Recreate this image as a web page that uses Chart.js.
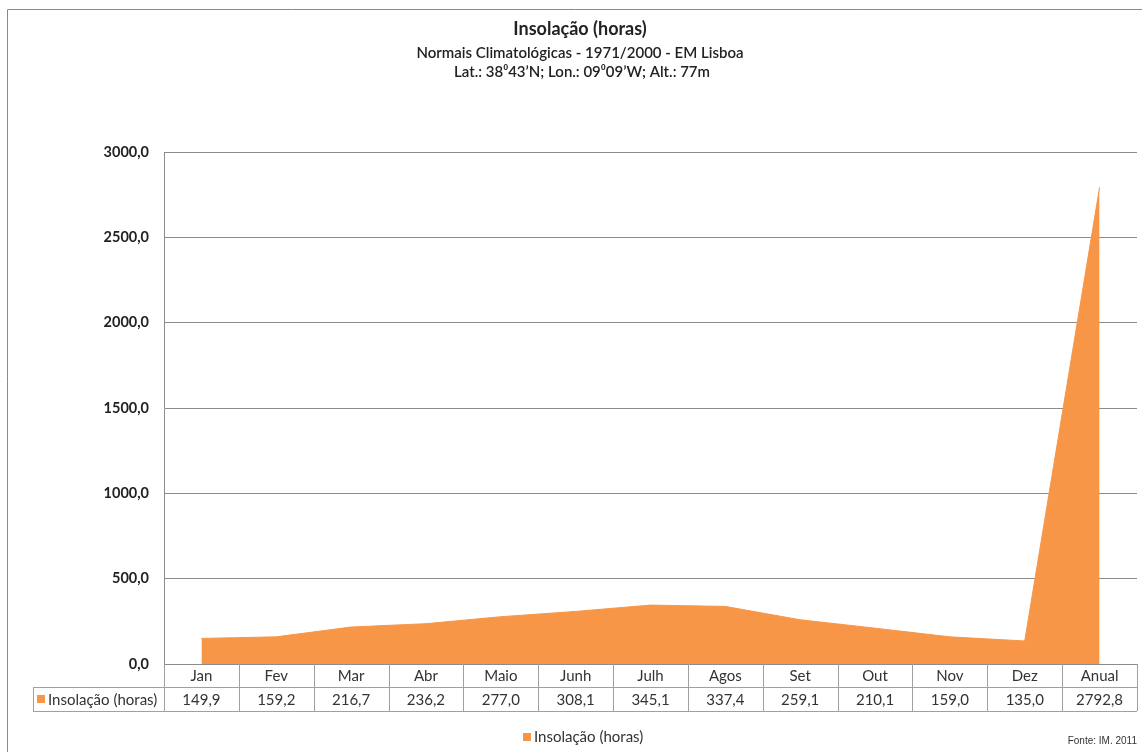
<!DOCTYPE html>
<html>
<head>
<meta charset="utf-8">
<script src="https://cdn.jsdelivr.net/npm/chart.js@4/dist/chart.umd.min.js"></script>
<style>
  html, body { margin: 0; padding: 0; background: #fff; }
  #wrap { width: 1142px; height: 752px; position: relative; }
</style>
</head>
<body>
<div id="wrap"><canvas id="myChart"></canvas></div>
<script>
var categories = ['Jan', 'Fev', 'Mar', 'Abr', 'Maio', 'Junh', 'Julh', 'Agos', 'Set', 'Out', 'Nov', 'Dez', 'Anual']
var insolacao = [149.9, 159.2, 216.7, 236.2, 277.0, 308.1, 345.1, 337.4, 259.1, 210.1, 159.0, 135.0, 2792.8]
var yTicks = [0, 500, 1000, 1500, 2000, 2500, 3000]
var seriesName = 'Insolação (horas)'
var titleLines = ['Insolação (horas)', 'Normais Climatológicas - 1971/2000 - EM Lisboa', 'Lat.: 38⁰43’N; Lon.: 09⁰09’W; Alt.: 77m']
var sourceText = 'Fonte: IM. 2011'

var orange = '#F79646'
var fontFam = 'Lato, "Open Sans", sans-serif'

function fmt(v) {
    return v.toFixed(1).replace('.', ',')
}

// titles, data table, legend and source drawn around the plot
var extras = {
    id: 'extras',
    beforeDraw: function(chart) {
        var c = chart.ctx
        c.save()
        c.strokeStyle = '#8a8a8a'
        c.lineWidth = 1
        c.beginPath()
        c.moveTo(7.5, 760)
        c.lineTo(7.5, 9.5)
        c.lineTo(1150, 9.5)
        c.stroke()
        c.restore()
    },
    afterDraw: function(chart) {
        var c = chart.ctx
        var area = chart.chartArea
        var x = chart.scales.x
        var colW = (area.right - area.left) / categories.length
        var row1 = area.bottom, row2 = area.bottom + 23, row3 = area.bottom + 47
        c.save()
        c.fillStyle = '#222'
        c.textAlign = 'center'
        c.textBaseline = 'middle'
        c.font = 'bold 18px ' + fontFam
        c.fillText(titleLines[0], 580, 29)
        c.font = '600 15px ' + fontFam
        c.fillText(titleLines[1], 580, 53)
        c.fillText(titleLines[2], 582, 72)

        // table grid
        c.strokeStyle = '#a0a0a0'
        c.lineWidth = 1
        c.beginPath()
        c.moveTo(33, row2 + 0.5); c.lineTo(area.right, row2 + 0.5)
        c.moveTo(33, row3 + 0.5); c.lineTo(area.right, row3 + 0.5)
        c.moveTo(33.5, row2); c.lineTo(33.5, row3)
        for (var i = 0; i <= categories.length; i++) {
            var lx = Math.round(area.left + i * colW) + 0.5
            c.moveTo(lx, row1); c.lineTo(lx, row3)
        }
        c.stroke()

        c.fillStyle = '#333'
        c.font = '15px ' + fontFam
        categories.forEach(function(cat, i) {
            var cx = x.getPixelForValue(i)
            c.fillText(cat, cx, (row1 + row2) / 2 + 1)
            c.fillText(fmt(insolacao[i]), cx, (row2 + row3) / 2 + 1)
        })
        c.textAlign = 'left'
        c.fillStyle = orange
        c.fillRect(37, (row2 + row3) / 2 - 4, 8, 8)
        c.fillStyle = '#333'
        c.fillText(seriesName, 48, (row2 + row3) / 2 + 1)

        // legend
        c.fillStyle = orange
        c.fillRect(523, 733, 8, 8)
        c.fillStyle = '#333'
        c.fillText(seriesName, 534, 737)

        // source
        c.font = '10px "Liberation Sans", Arial, sans-serif'
        c.textAlign = 'right'
        c.fillText(sourceText, 1137, 741)
        c.restore()
    }
}

var ctx = document.getElementById('myChart').getContext('2d')
var chart = new Chart(ctx, {
    type: 'line',
    data: {
        labels: categories,
        datasets: [{
            label: seriesName,
            data: insolacao,
            fill: 'origin',
            backgroundColor: orange,
            borderColor: orange,
            borderWidth: 1,
            pointRadius: 0,
            tension: 0
        }]
    },
    options: {
        responsive: true,
        maintainAspectRatio: false,
        animation: false,
        layout: { padding: { top: 152, left: 7, right: 5, bottom: 88 } },
        plugins: {
            legend: { display: false },
            title: { display: false },
            tooltip: { enabled: false }
        },
        scales: {
            x: {
                display: false,
                offset: true
            },
            y: {
                min: 0,
                max: 3000,
                afterBuildTicks: function(s) {
                    s.ticks = yTicks.map(function(v) { return { value: v } })
                },
                afterFit: function(s) { s.width = 157 },
                grid: { color: '#8c8c8c', drawTicks: false },
                border: { color: '#8c8c8c' },
                ticks: {
                    padding: 15,
                    color: '#222',
                    font: { family: fontFam, size: 14.5, weight: 'bold' },
                    callback: function(v) { return fmt(v) }
                }
            }
        }
    },
    plugins: [extras]
})
</script>
</body>
</html>
